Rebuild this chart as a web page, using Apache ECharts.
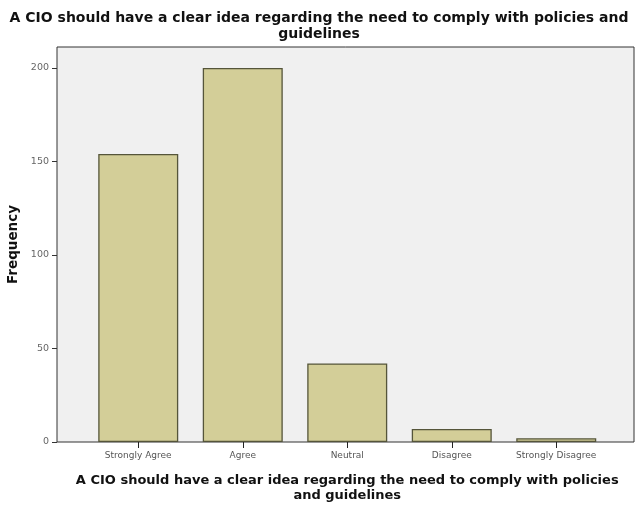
<!DOCTYPE html>
<html><head><meta charset="utf-8">
<script src="https://cdn.jsdelivr.net/npm/echarts@6/dist/echarts.min.js"></script>
<style>html,body{margin:0;background:#fff}#c{width:638px;height:506px}</style>
</head><body><div id="c"></div>
<script>
const categories = ['Strongly Agree', 'Agree', 'Neutral', 'Disagree', 'Strongly Disagree'];
const frequencies = [154, 200, 42, 7, 2];
const yTicks = [0, 50, 100, 150, 200];
const titleText = 'A CIO should have a clear idea regarding the need to comply with policies and\nguidelines';
const xTitle = 'A CIO should have a clear idea regarding the need to comply with policies\nand guidelines';
const yTitle = 'Frequency';

const font = '"DejaVu Sans", sans-serif';
const chart = echarts.init(document.getElementById('c'), null, {renderer: 'canvas'});
chart.setOption({
  animation: false,
  backgroundColor: '#ffffff',
  title: {
    text: titleText, left: 'center', top: 5,
    textStyle: {fontFamily: font, fontSize: 14, fontWeight: 'bold', color: '#111', lineHeight: 16}
  },
  grid: [
    {left: 57, right: 4, top: 47, bottom: 64, show: true, backgroundColor: '#f0f0f0', borderColor: '#333', borderWidth: 1, outerBoundsMode: 'none', containLabel: false},
    {left: 86, right: 29.5, top: 68, bottom: 64, outerBoundsMode: 'none', containLabel: false}
  ],
  xAxis: [
    {gridIndex: 0, type: 'category', data: categories, show: false},
    {
      gridIndex: 1, type: 'category', data: categories,
      axisLine: {show: false},
      axisTick: {show: true, alignWithLabel: true, length: 6, lineStyle: {color: '#222'}},
      axisLabel: {fontFamily: font, fontSize: 9, color: '#555', margin: 9, interval: 0},
      name: xTitle, nameLocation: 'middle', nameGap: 31,
      nameTextStyle: {fontFamily: font, fontSize: 13, fontWeight: 'bold', color: '#111', lineHeight: 15}
    }
  ],
  yAxis: [
    {
      gridIndex: 0, type: 'value', min: 0, max: 1,
      axisLine: {show: false}, axisTick: {show: false}, axisLabel: {show: false}, splitLine: {show: false},
      name: yTitle, nameLocation: 'middle', nameGap: 37, nameRotate: 90,
      nameTextStyle: {fontFamily: font, fontSize: 13.5, fontWeight: 'bold', color: '#111'}
    },
    {
      gridIndex: 1, type: 'value',
      min: yTicks[0], max: yTicks[yTicks.length - 1], interval: yTicks[1] - yTicks[0],
      offset: 29,
      splitLine: {show: false},
      axisLine: {show: false},
      axisTick: {show: true, length: 5, lineStyle: {color: '#333'}},
      axisLabel: {fontFamily: font, fontSize: 9.5, color: '#666', margin: 8}
    }
  ],
  series: [{
    type: 'bar', xAxisIndex: 1, yAxisIndex: 1,
    data: frequencies, barWidth: 80,
    itemStyle: {color: '#d3ce98', borderColor: '#55553a', borderWidth: 1.3}
  }]
});
</script></body></html>
